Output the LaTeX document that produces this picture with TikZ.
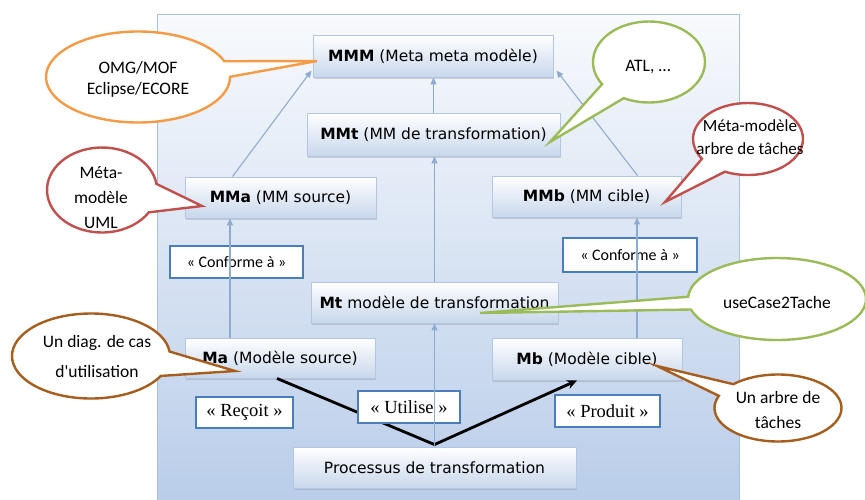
\documentclass[tikz,border=0pt]{standalone}
\usepackage{fontspec}
\setmainfont{DejaVu Sans}
\newfontfamily\callfont{Carlito}
\newfontfamily\serfont{Liberation Serif}
\usetikzlibrary{shapes.callouts,shadows,arrows.meta}
\definecolor{frametop}{HTML}{F8FAFD}
\definecolor{framebot}{HTML}{B9CDE9}
\definecolor{frameline}{HTML}{A9C0DE}
\definecolor{boxbot}{HTML}{C8D7EC}
\definecolor{boxline}{HTML}{B3C6E1}
\definecolor{lblline}{HTML}{4A7EBB}
\definecolor{arrblue}{HTML}{8EABD2}
\definecolor{cOrange}{HTML}{F59A45}
\definecolor{cRed}{HTML}{C0504D}
\definecolor{cGreen}{HTML}{9BBB59}
\definecolor{cBrown}{HTML}{A65E1E}
\begin{document}
\begin{tikzpicture}[x=1pt,y=-1pt,
  framebox/.style={draw=frameline, line width=0.9pt, top color=frametop, bottom color=framebot, anchor=north west, inner sep=0pt},
  mbox/.style={draw=boxline, line width=0.9pt, top color=white, bottom color=boxbot, inner sep=0pt,
    font=\fontsize{15.5}{18}\selectfont,
    drop shadow={opacity=0.3, shadow xshift=1pt, shadow yshift=-1.5pt}},
  lbl/.style={draw=lblline, line width=2.4pt, fill=white, inner sep=0pt},
  conf/.style={lbl, font=\callfont\fontsize{16}{19}\selectfont},
  serlbl/.style={lbl, font=\serfont\fontsize{18.5}{21}\selectfont},
  upar/.style={draw=arrblue, line width=1.1pt, -{Triangle[length=7pt,width=6pt]}},
  blk/.style={draw=black, line width=2.8pt},
  bubble/.style={ellipse callout, fill=white, line width=2.4pt, inner sep=0pt},
  btext/.style={align=center, inner sep=0pt},
]
\useasboundingbox (0,0) rectangle (865,499);

% frame
\node[framebox, minimum width=582pt, minimum height=488pt] (frame) at (157,14) {};

% main boxes
\node[mbox, minimum width=240pt, minimum height=42pt] (MMM) at (433,56) {\textbf{MMM} (Meta meta modèle)};
\node[mbox, minimum width=253pt, minimum height=43pt] (MMt) at (433.5,134.5) {\textbf{MMt} (MM de transformation)};
\node[mbox, minimum width=191pt, minimum height=41pt] (MMa) at (280.5,197.5) {\textbf{MMa} (MM source)};
\node[mbox, minimum width=189pt, minimum height=41pt] (MMb) at (586.5,196.5) {\textbf{MMb} (MM cible)};
\node[mbox, minimum width=247pt, minimum height=41pt] (Mt) at (434.5,302.5) {\textbf{Mt} modèle de transformation};
\node[mbox, minimum width=190pt, minimum height=40pt] (Ma) at (280,358) {\textbf{Ma} (Modèle source)};
\node[mbox, minimum width=190pt, minimum height=42pt] (Mb) at (587,359) {\textbf{Mb} (Modèle cible)};
\node[mbox, minimum width=283pt, minimum height=41pt] (Proc) at (434.5,467.5) {Processus de transformation};

% black connectors
\draw[blk] ([yshift=2pt]Proc.north) -- ([xshift=-3pt]Ma.south);
\draw[blk, -{Stealth[length=10pt,width=9pt]}] ([yshift=2pt]Proc.north) -- ([xshift=-10pt]Mb.south);

% stereotype labels
\node[conf, minimum width=133pt, minimum height=32pt] (confL) at (236.5,262) {« Conforme à »};
\node[conf, minimum width=134pt, minimum height=34pt] (confR) at (630,255) {« Conforme à »};
\node[serlbl, minimum width=97pt, minimum height=31pt] (recoit) at (244.5,412.5) {« Reçoit »};
\node[serlbl, minimum width=102pt, minimum height=32pt] (utilise) at (409,407) {« Utilise »};
\node[serlbl, minimum width=105pt, minimum height=32pt] (produit) at (607.5,411) {« Produit »};

% conformance arrows
\draw[upar] ([xshift=-48pt]MMa.north) -- ([shift={(-1pt,7pt)}]MMM.south west);
\draw[upar] (MMt.north) -- (MMt.north |- MMM.south);
\draw[upar] ([xshift=51pt]MMb.north) -- ([shift={(3pt,7pt)}]MMM.south east);
\draw[upar] (Mt.north) -- (Mt.north |- MMt.south);
\draw[upar] ([xshift=-50pt]Ma.north) -- ([xshift=-50pt]Ma.north |- MMa.south);
\draw[upar] ([xshift=50pt]Mb.north) -- ([xshift=50pt]Mb.north |- MMb.south);
\draw[upar] (Proc.north) -- (Proc.north |- Mt.south);

% callout tips
\coordinate (pOMG) at (317,61);
\coordinate (pUML) at (202,206);
\coordinate (pATL) at (550,142);
\coordinate (pArbMM) at (665,202);
\coordinate (pUse) at (480,313);
\coordinate (pDiag) at (235,371);
\coordinate (pArb) at (657,366);

% callouts
\node[bubble, draw=cOrange, callout pointer arc=20, minimum width=184pt, minimum height=91pt, callout absolute pointer=(pOMG)] (cOMG) at (138,77) {};
\node[btext, font=\callfont\fontsize{17.5}{21}\selectfont] (tOMG) at (138,79) {OMG/MOF\\Eclipse/ECORE};

\node[bubble, draw=cRed, callout pointer arc=40, minimum width=110pt, minimum height=85pt, callout absolute pointer=(pUML)] (cUML) at (102,190) {};
\node[btext, font=\callfont\fontsize{17.5}{25}\selectfont] (tUML) at (101,198) {Méta-\\modèle\\UML};

\node[bubble, draw=cGreen, callout pointer arc=30, minimum width=112pt, minimum height=81pt, callout absolute pointer=(pATL)] (cATL) at (649,62) {};
\node[btext, font=\callfont\fontsize{17.5}{21}\selectfont] (tATL) at (648,67) {ATL, …};

\node[bubble, draw=cRed, callout pointer arc=32, minimum width=110pt, minimum height=72pt, callout absolute pointer=(pArbMM)] (cArbMM) at (748,139) {};
\node[btext, font=\callfont\fontsize{17}{23}\selectfont] (tArbMM) at (750,137) {Méta-modèle\\arbre de tâches};

\node[bubble, draw=cGreen, callout pointer arc=18, minimum width=178pt, minimum height=82pt, callout absolute pointer=(pUse)] (cUse) at (777,299) {};
\node[btext, font=\callfont\fontsize{17.5}{21}\selectfont] (tUse) at (777,302) {useCase2Tache};

\node[bubble, draw=cBrown, callout pointer arc=34, minimum width=158pt, minimum height=85pt, callout absolute pointer=(pDiag)] (cDiag) at (91,356) {};
\node[btext, font=\callfont\fontsize{17.5}{30}\selectfont] (tDiag) at (97,356) {Un diag. de cas\\d'utilisation};

\node[bubble, draw=cBrown, callout pointer arc=24, minimum width=127pt, minimum height=67pt, callout absolute pointer=(pArb)] (cArb) at (778,408) {};
\node[btext, font=\callfont\fontsize{17.5}{25}\selectfont] (tArb) at (778,410) {Un arbre de\\tâches};
\end{tikzpicture}
\end{document}
